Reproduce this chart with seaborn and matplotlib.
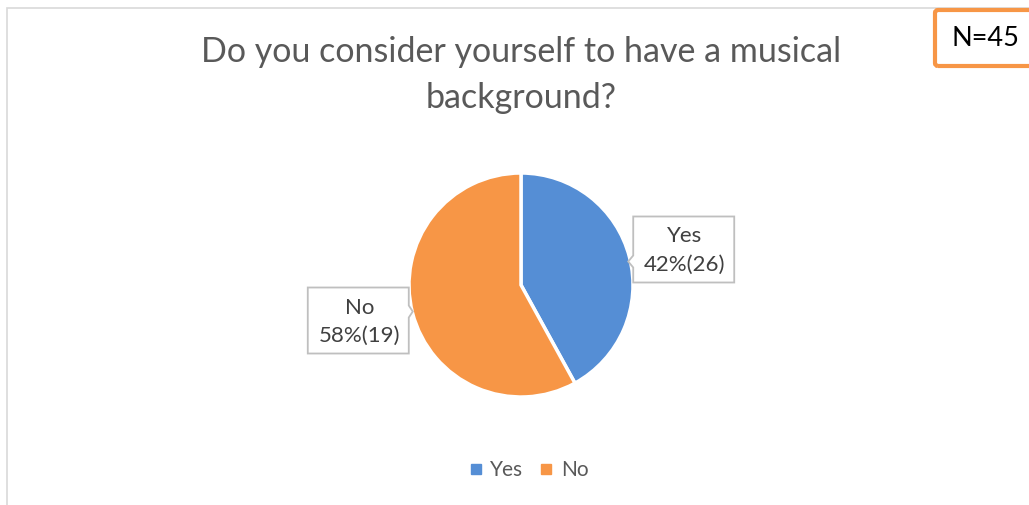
import numpy as np
import matplotlib
matplotlib.use("Agg")
import matplotlib.pyplot as plt
import seaborn as sns
from matplotlib.patches import Rectangle, FancyBboxPatch, Polygon

# Survey answers
categories = ["Yes", "No"]
percentages = [42, 58]
counts = [26, 19]
title = "Do you consider yourself to have a musical\nbackground?"
sample_label = "N=45"

sns.set_theme(style="white")
plt.rcParams["font.family"] = ["Lato", "DejaVu Sans"]

colors = ["#558ED5", "#F79646"]
text_gray = "#595959"
W, H = 1029, 505

fig = plt.figure(figsize=(W / 100, H / 100), dpi=100)
ax = fig.add_axes([0, 0, 1, 1])

# pie
cx, cy, r = 521, H - 285, 112
wedges, _ = ax.pie(percentages, colors=colors, startangle=90, counterclock=False,
                   center=(cx, cy), radius=r, frame=True,
                   wedgeprops=dict(edgecolor="white", linewidth=2.5))
ax.set_xlim(0, W)
ax.set_ylim(0, H)
ax.set_aspect("equal")
ax.axis("off")

# chart frame (only the top and left edges fall inside the canvas)
ax.add_patch(Rectangle((6.5, -20), 1200, H - 7.5 + 20, fill=False,
                       edgecolor="#D9D9D9", lw=1.2, zorder=0))

# callout labels placed from the wedge mid-angles
box_w, box_h = 101, 66
for wdg, cat, pct, cnt in zip(wedges, categories, percentages, counts):
    ang = np.deg2rad((wdg.theta1 + wdg.theta2) / 2)
    dist = r * 1.5
    bx = cx + dist * np.cos(ang)
    by = cy + 0.85 * dist * np.sin(ang)
    x0, x1 = bx - box_w / 2, bx + box_w / 2
    y0, y1 = by - box_h / 2, by + box_h / 2
    if np.cos(ang) > 0:
        # pointer on the left edge
        py = by - 12
        pts = [(x0, y1), (x1, y1), (x1, y0), (x0, y0), (x0, py - 6),
               (x0 - 5, py), (x0, py + 6)]
    else:
        py = by + 9
        pts = [(x0, y1), (x1, y1), (x1, py + 6), (x1 + 4, py), (x1, py - 6),
               (x1, y0), (x0, y0)]
    ax.add_patch(Polygon(pts, closed=True, facecolor="white",
                         edgecolor="#BFBFBF", lw=1.3, zorder=3))
    ax.text(bx + 1, by - 1, f"{cat}\n{pct}%({cnt})", ha="center", va="center",
            fontsize=16, color="#404040", linespacing=1.5, zorder=4)

# title
ax.text(521, H - 75, title, ha="center", va="center", fontsize=24.5,
        color=text_gray, linespacing=1.5)

# sample size box
ax.add_patch(FancyBboxPatch((935, H - 66), 110, 56,
                            boxstyle="round,pad=0,rounding_size=3",
                            fill=False, edgecolor="#F79646", lw=3, zorder=5))
ax.text(985, H - 39, sample_label, ha="center", va="center", fontsize=19.5,
        color="black", zorder=6)

# legend
handles = [plt.Line2D([], [], marker="s", ls="", markersize=7,
                      markerfacecolor=c, markeredgecolor=c) for c in colors]
ax.legend(handles, categories, loc="center", bbox_to_anchor=(527 / W, 1 - 470 / H),
          ncol=2, frameon=False, fontsize=15, labelcolor=text_gray,
          handletextpad=0.2, columnspacing=0.6, handlelength=1.0)

fig.savefig("out.png", dpi=100)
